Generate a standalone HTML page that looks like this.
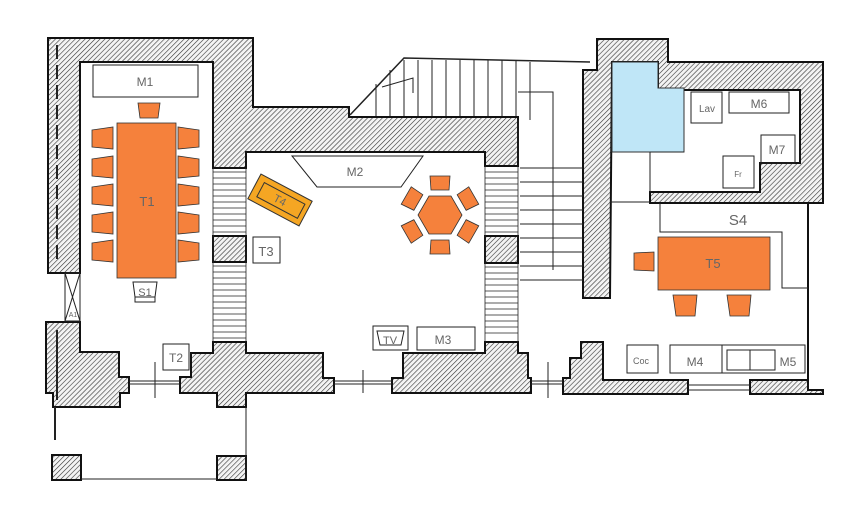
<!DOCTYPE html>
<html><head><meta charset="utf-8"><style>
html,body{margin:0;padding:0;background:#fff;}
svg{display:block;}
text{font-family:"Liberation Sans",sans-serif;fill:#666;}
</style></head><body>
<svg width="855" height="512" viewBox="0 0 855 512" xmlns="http://www.w3.org/2000/svg">
<defs>
<pattern id="h" patternUnits="userSpaceOnUse" width="3.5" height="3.5" patternTransform="rotate(45)">
<rect width="3.5" height="3.5" fill="#f4f4f4"/><line x1="0" y1="0" x2="0" y2="3.5" stroke="#333" stroke-width="1.2"/>
</pattern>
</defs>
<g stroke="#111" stroke-width="2" fill="url(#h)">
<polygon points="48,38 253,38 253,107 349,107 349,117 518,117 518,166 485,166 485,152 246,152 246,168 213,168 213,62 80,62 80,273 48,273"/>
<polygon points="46,322 80,322 80,352 119,352 119,377 129,377 129,393 120,393 120,407 53,407 53,393 46,393"/>
<polygon points="180,393 180,377 191,377 191,353 213,353 213,342 246,342 246,353 323,353 323,378 334,378 334,393 246,393 246,407 217,407 217,393"/>
<polygon points="392,393 392,378 403,378 403,353 485,353 485,342 518,342 518,353 528,353 528,378 531,378 531,393"/>
<rect x="213" y="236" width="33" height="26"/>
<rect x="485" y="236" width="33" height="27"/>
<polygon points="597,39 668,39 668,62 823,62 823,203 808,203 808,390 823,390 823,394 750,394 750,380 808,380 808,203 650,203 650,192 760,192 760,163 800,163 800,90 658,90 658,62 612,62 610,298 583,298 583,70 597,70"/>
<polygon points="563,394 563,378 570,378 570,358 581,358 581,342 603,342 603,380 688,380 688,394"/>
<rect x="52" y="455" width="29" height="25"/>
<rect x="217" y="456" width="29" height="24"/>
</g>
<polygon points="612,62 658,62 658,88 684,88 684,152 612,152" fill="#bfe6f7" stroke="#333" stroke-width="1"/>
<g stroke="#222" stroke-width="1" fill="none">
<line x1="57" y1="45" x2="57" y2="265" stroke-dasharray="14,6" stroke-width="2"/>
<line x1="57" y1="330" x2="57" y2="400" stroke-width="2"/>
<rect x="65" y="273" width="15" height="48"/>
<line x1="65" y1="273" x2="80" y2="321"/><line x1="80" y1="273" x2="65" y2="321"/>
<line x1="129" y1="381" x2="180" y2="381"/><line x1="129" y1="384" x2="180" y2="384"/><line x1="155" y1="362" x2="155" y2="398"/>
<line x1="334" y1="381" x2="392" y2="381"/><line x1="334" y1="384" x2="392" y2="384"/><line x1="363" y1="370" x2="363" y2="393"/>
<line x1="531" y1="381" x2="563" y2="381"/><line x1="531" y1="384" x2="563" y2="384"/><line x1="548" y1="362" x2="548" y2="398"/>
<line x1="688" y1="385" x2="750" y2="385"/><line x1="688" y1="390" x2="750" y2="390"/>
<line x1="55" y1="407" x2="55" y2="440" stroke-width="2"/>
<line x1="246" y1="407" x2="246" y2="480"/>
<line x1="81" y1="479" x2="217" y2="479"/>
<g stroke-width="0.8">
<path d="M213,172H246M213,178H246M213,184H246M213,190H246M213,196H246M213,202H246M213,208H246M213,214H246M213,220H246M213,226H246M213,232H246"/>
<path d="M213,266H246M213,272H246M213,278H246M213,284H246M213,290H246M213,296H246M213,302H246M213,308H246M213,314H246M213,320H246M213,326H246M213,332H246M213,338H246"/>
<path d="M485,172H518M485,178H518M485,184H518M485,190H518M485,196H518M485,202H518M485,208H518M485,214H518M485,220H518M485,226H518M485,232H518"/>
<path d="M485,267H518M485,273H518M485,279H518M485,285H518M485,291H518M485,297H518M485,303H518M485,309H518M485,315H518M485,321H518M485,327H518M485,333H518"/>
<line x1="213" y1="168" x2="213" y2="342"/><line x1="246" y1="168" x2="246" y2="342"/>
<line x1="485" y1="166" x2="485" y2="342"/><line x1="518" y1="166" x2="518" y2="342"/>
</g>
<path d="M350,115 L404,58 L590,62" stroke-width="1.5"/>
<path d="M382,87 L413,78 L413,93"/>
<path d="M376,84V116M390,70V116M404,60V116M418,60V116M432,60V116M446,60V116M460,60V116M474,60V116M488,60V116M502,60V116M516,60V116"/>
<path d="M518,92H553V270M520,168H583M520,182H583M520,196H583M520,210H583M520,224H583M520,238H583M520,252H583M520,266H583M520,280H583M518,120V166M530,62V120"/>
<path d="M610,202H650M660,203V232H782V288H808"/>
<path d="M650,152V192"/>
<line x1="684" y1="152" x2="650" y2="152"/>
<rect x="93" y="65" width="105" height="32"/>
<rect x="253" y="237" width="27" height="26"/>
<rect x="163" y="344" width="26" height="26"/>
<rect x="373" y="326" width="35" height="24"/>
<path d="M377,331H404L401,345H380Z"/>
<rect x="417" y="327" width="58" height="23"/>
<path d="M292,156H423L401,187H317Z"/>
<rect x="691" y="92" width="31" height="31"/>
<rect x="729" y="92" width="60" height="21"/>
<rect x="761" y="135" width="34" height="28"/>
<rect x="723" y="156" width="31" height="32"/>
<rect x="627" y="345" width="31" height="28"/>
<rect x="670" y="345" width="135" height="28"/>
<line x1="722" y1="345" x2="722" y2="373"/>
<rect x="727" y="350" width="48" height="20"/><line x1="750" y1="350" x2="750" y2="370"/>
<path d="M133,282H157L155,297H135Z"/><rect x="135" y="297" width="20" height="5"/>
</g>
<g fill="#f5813c" stroke="#333" stroke-width="0.8">
<rect x="117" y="123" width="59" height="155"/>
<path d="M138,103H160L158,118H140Z"/>
<g id="cl">
<path d="M92,130L113,127V149L92,147Z"/><path d="M92,159L113,156V178L92,176Z"/><path d="M92,187L113,184V206L92,204Z"/><path d="M92,215L113,212V234L92,232Z"/><path d="M92,243L113,240V262L92,260Z"/>
</g>
<use href="#cl" transform="translate(291,0) scale(-1,1)"/>
<rect x="658" y="237" width="112" height="53"/>
<path d="M634,253L654,252V271L634,270Z"/>
<path d="M673,295H697L695,316H676Z"/><path d="M727,295H751L749,316H730Z"/>
<polygon points="462,215 451,234 429,234 418,215 429,196 451,196"/>
<g transform="translate(440,215)">
<path d="M-10,-39H10L9,-25H-9Z" id="hc"/>
<use href="#hc" transform="rotate(60)"/><use href="#hc" transform="rotate(120)"/><use href="#hc" transform="rotate(180)"/><use href="#hc" transform="rotate(240)"/><use href="#hc" transform="rotate(300)"/>
</g>
</g>
<g transform="translate(280,200) rotate(28)">
<rect x="-29" y="-14" width="58" height="28" fill="#f5a623" stroke="#333" stroke-width="1"/>
<rect x="-22" y="-8" width="46" height="16" fill="none" stroke="#333" stroke-width="1"/>
<text x="0" y="4" font-size="11" text-anchor="middle">T4</text>
</g>
<g font-size="12" text-anchor="middle">
<text x="145" y="86">M1</text>
<text x="147" y="206" font-size="13">T1</text>
<text x="145" y="296" font-size="11">S1</text>
<text x="266" y="256" font-size="13">T3</text>
<text x="176" y="362">T2</text>
<text x="355" y="176">M2</text>
<text x="390" y="344" font-size="11">TV</text>
<text x="443" y="344">M3</text>
<text x="707" y="112" font-size="10">Lav</text>
<text x="759" y="108">M6</text>
<text x="777" y="154">M7</text>
<text x="738" y="177" font-size="8">Fr</text>
<text x="738" y="225" font-size="15">S4</text>
<text x="713" y="268" font-size="13">T5</text>
<text x="641" y="364" font-size="9">Coc</text>
<text x="695" y="366">M4</text>
<text x="788" y="366">M5</text>
<text x="73" y="317" font-size="7">A1</text>
</g>
</svg>
</body></html>
